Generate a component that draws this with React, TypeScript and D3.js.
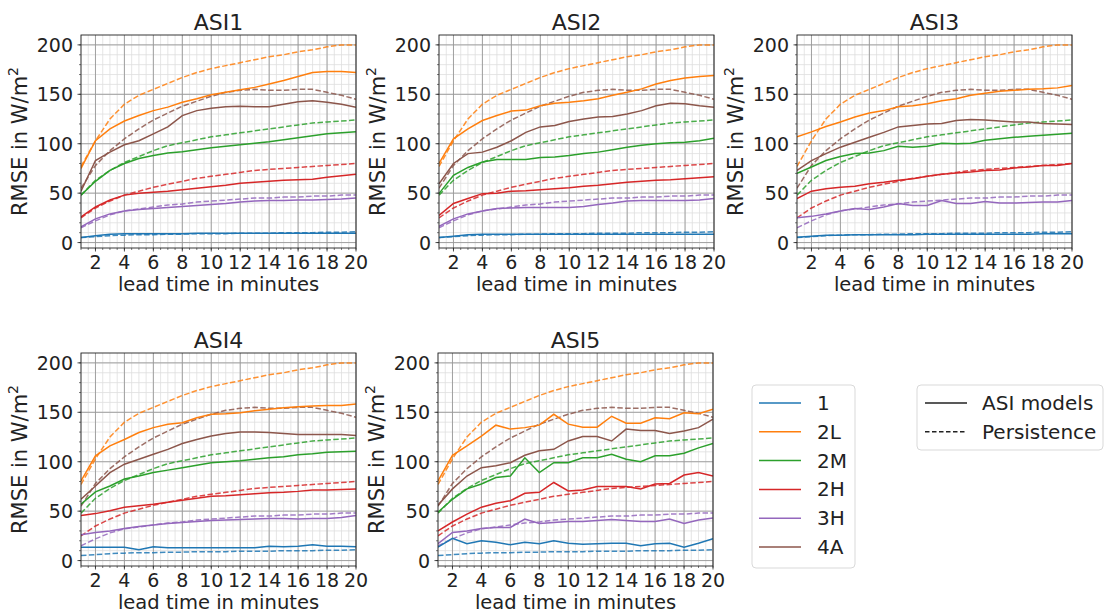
import React from 'react';
import * as d3 from 'd3';

const leadTimes = [1, 2, 3, 4, 5, 6, 7, 8, 9, 10, 11, 12, 13, 14, 15, 16, 17, 18, 19, 20];
const seriesNames = ['1', '2L', '2M', '2H', '3H', '4A'];
const seriesColors = ['#1f77b4', '#ff7f0e', '#2ca02c', '#d62728', '#9467bd', '#8c564b'];
const panelTitles = ['ASI1', 'ASI2', 'ASI3', 'ASI4', 'ASI5'];
const xTickValues = [2, 4, 6, 8, 10, 12, 14, 16, 18, 20];
const yTickValues = [0, 50, 100, 150, 200];
const styleNames = ['ASI models', 'Persistence'];

// Persistence (same reference in every panel)
const persist1 = [5, 6, 7, 7.5, 8, 8, 8.5, 8.5, 9, 9, 9, 9.5, 9.5, 9.5, 10, 10, 10, 10.5, 10.5, 11];
const persist2L = [77, 103, 125, 140, 149, 155, 161, 167, 172, 176, 179, 182, 185, 188, 190, 193, 195, 198, 200, 200];
const persist2M = [48, 63, 73, 81, 87, 93, 98, 101, 104, 107, 109, 111, 113, 115, 117, 119, 121, 122, 123, 124];
const persist2H = [25, 35, 42, 48, 52, 56, 59, 62, 65, 67, 69, 71, 73, 74, 75, 76, 77, 78, 79, 80];
const persist3H = [15, 22, 28, 32, 34, 36, 38, 39, 41, 42, 43, 44, 45, 45, 46, 46, 47, 47, 48, 48];
const persist4A = [55, 78, 93, 105, 115, 124, 131, 138, 143, 148, 152, 154, 155, 154, 154, 155, 155, 152, 149, 145];

// ASI1
const asi1_1 = [5, 7, 8.5, 9, 9, 9, 9, 9, 9.5, 9.5, 9.5, 9.5, 9.5, 9.5, 9.5, 9.5, 9.5, 9.5, 9.5, 9.5];
const asi1_2L = [75, 103, 115, 123, 128.5, 133.5, 137, 142, 145.5, 149.5, 152, 154.5, 157, 160.5, 164, 168, 172, 173, 173, 172];
const asi1_2M = [48, 62, 73, 80, 85, 88, 90.5, 92, 94, 96, 97.5, 99, 100.5, 102, 104, 106, 108, 110, 111, 112];
const asi1_2H = [26, 36, 43, 48, 50, 51, 52, 53.5, 55, 56.5, 58, 60, 61, 62, 63, 63.5, 64, 66, 67.5, 69];
const asi1_3H = [16, 24, 29, 32, 33.5, 34.5, 35.5, 36.5, 37.5, 38.5, 39.5, 41, 42, 42.5, 42.5, 43, 43, 43.5, 44, 45];
const asi1_4A = [52, 83, 91.5, 99, 103, 110, 117, 128.5, 133.5, 136, 137.5, 138, 137.5, 137.5, 140, 142.5, 143.5, 142, 140, 137];

// ASI2
const asi2_1 = [5, 6.5, 8, 8.5, 8.5, 8.5, 8.5, 8.5, 8.5, 8.5, 8.5, 8.5, 8.5, 8.5, 8.5, 8.5, 8.5, 8.5, 8.5, 8.5];
const asi2_2L = [80, 105, 115, 123.5, 128.5, 133, 134, 138.5, 141, 142, 143.5, 145.5, 149, 152, 155.5, 160.5, 164, 166.5, 168, 169];
const asi2_2M = [49.5, 68, 76, 81.5, 84, 84, 84, 86, 86.5, 88, 90, 91.5, 94, 96.5, 98.5, 100, 101, 101.5, 103, 105.5];
const asi2_2H = [27.5, 39.5, 44.5, 49.5, 50, 52, 52.5, 53.5, 54.5, 55.5, 57, 58, 59.5, 61, 62, 63, 63.5, 64.5, 65.5, 66.5];
const asi2_3H = [16.5, 24, 29, 32, 34.5, 35, 35.5, 35.5, 35.5, 35.5, 36.5, 38.5, 40, 42, 42.5, 42.5, 42.5, 42.5, 43, 44.5];
const asi2_4A = [59.5, 80, 90, 91.5, 96.5, 103, 111.5, 117, 118.5, 122.5, 125, 127, 127.5, 130, 133.5, 138.5, 141, 140.5, 138.5, 137];

// ASI3
const asi3_1 = [5.5, 6.5, 7.5, 7.5, 8, 8, 8, 8, 8, 8.5, 8.5, 8.5, 8.5, 8.5, 8.5, 8.5, 8.5, 9, 9, 9];
const asi3_2L = [107, 112, 117.5, 122, 127, 131, 133.5, 137.5, 138.5, 140.5, 143.5, 145.5, 149, 151, 153, 154, 155, 155.5, 156.5, 159];
const asi3_2M = [70, 76.5, 83, 87, 90, 90.5, 93, 97.5, 96.5, 97.5, 100.5, 100, 100.5, 103.5, 105, 106.5, 107.5, 108.5, 109.5, 110.5];
const asi3_2H = [44.5, 52, 54.5, 56, 57, 59.5, 61, 63, 64.5, 67, 69, 70.5, 71.5, 73, 73.5, 75.5, 76.5, 78, 78, 80];
const asi3_3H = [25, 26.5, 29, 32, 34.5, 33.5, 36, 39.5, 37.5, 37.5, 42.5, 39.5, 39.5, 41.5, 40, 40, 40.5, 41, 41, 42.5];
const asi3_4A = [73, 83, 90, 96.5, 101.5, 106.5, 111.5, 117, 118.5, 120, 120.5, 123.5, 124.5, 124, 123, 122, 122, 120.5, 120, 119.5];

// ASI4
const asi4_1 = [13.5, 13.5, 13.5, 13.5, 11, 14, 13, 13, 13, 13, 13, 13, 13, 14.5, 14, 14.5, 16, 14.5, 14.5, 14];
const asi4_2L = [80.5, 106, 116, 122.5, 129.5, 134.5, 138, 139.5, 144.5, 148, 148.5, 149.5, 151.5, 153, 154.5, 155.5, 156.5, 157, 157, 158.5];
const asi4_2M = [57, 69.5, 75.5, 82.5, 85.5, 89, 91.5, 94, 96.5, 99, 100, 101, 102.5, 104, 105, 107, 108, 109.5, 110, 110.5];
const asi4_2H = [45.5, 47.5, 50.5, 54, 55.5, 57, 59, 61, 63, 65, 65.5, 66.5, 67.5, 68.5, 69, 70, 71.5, 71.5, 72, 72.5];
const asi4_3H = [26, 28.5, 30, 32.5, 34.5, 36, 37.5, 38.5, 39.5, 40.5, 41, 41.5, 42, 42.5, 42.5, 42, 42.5, 42.5, 43.5, 45.5];
const asi4_4A = [62, 75.5, 89, 97.5, 102.5, 107.5, 112.5, 118.5, 122.5, 126, 128.5, 130, 130, 129.5, 128.5, 127.5, 127.5, 127.5, 127.5, 126.5];

// ASI5
const asi5_1 = [13.5, 22.5, 17, 20, 18.5, 16, 18.5, 17, 20, 17.5, 16.5, 17, 17.5, 17.5, 15, 17, 17.5, 13.5, 17.5, 22];
const asi5_2L = [80.5, 106.5, 116, 126, 137, 133, 134.5, 137, 148, 138, 135, 135, 146, 139, 139, 144.5, 143.5, 149.5, 148.5, 153];
const asi5_2M = [49, 62, 72.5, 77.5, 84, 85.5, 104, 89, 99, 99, 104, 104, 107.5, 102.5, 100, 106, 106, 108.5, 114, 118.5];
const asi5_2H = [30, 39, 47, 54, 58, 60.5, 68, 69, 79, 70.5, 71.5, 75, 75, 75, 72.5, 77.5, 78, 86.5, 89, 85.5];
const asi5_3H = [17, 28.5, 30, 32.5, 33.5, 33.5, 42, 37.5, 38.5, 39.5, 39.5, 40.5, 41.5, 40.5, 39.5, 39.5, 42, 37.5, 41, 43];
const asi5_4A = [56, 72.5, 85.5, 94, 96, 99, 106.5, 111, 112.5, 121, 125.5, 125.5, 121, 133, 131.5, 131.5, 128.5, 131, 134.5, 143];

const persistence = [persist1, persist2L, persist2M, persist2H, persist3H, persist4A];
const panelData = [
  [asi1_1, asi1_2L, asi1_2M, asi1_2H, asi1_3H, asi1_4A],
  [asi2_1, asi2_2L, asi2_2M, asi2_2H, asi2_3H, asi2_4A],
  [asi3_1, asi3_2L, asi3_2M, asi3_2H, asi3_3H, asi3_4A],
  [asi4_1, asi4_2L, asi4_2M, asi4_2H, asi4_3H, asi4_4A],
  [asi5_1, asi5_2L, asi5_2M, asi5_2H, asi5_3H, asi5_4A],
];

const PW = 275;
const PH = 213;
const panelPos = [
  { x: 81, y: 35 },
  { x: 439, y: 35 },
  { x: 797, y: 35 },
  { x: 81, y: 353 },
  { x: 438, y: 353 },
];
const FONT = 'DejaVu Sans, sans-serif';

function Panel({ idx }: { idx: number }) {
  const pos = panelPos[idx];
  const x = d3.scaleLinear().domain([1, 20]).range([0, PW]);
  const y = d3.scaleLinear().domain([-5.5, 210]).range([PH, 0]);
  const xMinor = d3.range(1, 20.001, 0.5);
  const yMinor = d3.range(0, 210, 10);
  const line = d3
    .line<number>()
    .x((_, i) => x(leadTimes[i]))
    .y((d) => y(d));
  const clipId = `clip-${idx}`;
  return (
    <g transform={`translate(${pos.x},${pos.y})`}>
      <defs>
        <clipPath id={clipId}>
          <rect x={0} y={0} width={PW} height={PH} />
        </clipPath>
      </defs>
      <rect x={0} y={0} width={PW} height={PH} fill="#fff" />
      {xMinor.map((v) => (
        <line key={`xm${v}`} x1={x(v)} x2={x(v)} y1={0} y2={PH} stroke="#dedede" strokeWidth={0.8} />
      ))}
      {yMinor.map((v) => (
        <line key={`ym${v}`} x1={0} x2={PW} y1={y(v)} y2={y(v)} stroke="#dedede" strokeWidth={0.8} />
      ))}
      {xTickValues.map((v) => (
        <line key={`xg${v}`} x1={x(v)} x2={x(v)} y1={0} y2={PH} stroke="#999" strokeWidth={0.9} />
      ))}
      {yTickValues.map((v) => (
        <line key={`yg${v}`} x1={0} x2={PW} y1={y(v)} y2={y(v)} stroke="#999" strokeWidth={0.9} />
      ))}
      <g clipPath={`url(#${clipId})`}>
        {seriesNames.map((s, i) => (
          <path
            key={`p${s}`}
            d={line(persistence[i]) || ''}
            fill="none"
            stroke={seriesColors[i]}
            strokeWidth={1.5}
            strokeDasharray="5.5,2.4"
            opacity={0.85}
          />
        ))}
        {seriesNames.map((s, i) => (
          <path
            key={`a${s}`}
            d={line(panelData[idx][i]) || ''}
            fill="none"
            stroke={seriesColors[i]}
            strokeWidth={1.5}
          />
        ))}
      </g>
      <rect x={0} y={0} width={PW} height={PH} fill="none" stroke="#222" strokeWidth={0.9} />
      {xMinor.map((v) => (
        <line key={`xmt${v}`} x1={x(v)} x2={x(v)} y1={PH} y2={PH + 2} stroke="#222" strokeWidth={0.6} />
      ))}
      {yMinor.map((v) => (
        <line key={`ymt${v}`} x1={0} x2={-2} y1={y(v)} y2={y(v)} stroke="#222" strokeWidth={0.6} />
      ))}
      {xTickValues.map((v) => (
        <g key={`xt${v}`}>
          <line x1={x(v)} x2={x(v)} y1={PH} y2={PH + 3.5} stroke="#222" strokeWidth={0.8} />
          <text x={x(v)} y={PH + 21} textAnchor="middle" fontSize={19} fontFamily={FONT} fill="#222">
            {v}
          </text>
        </g>
      ))}
      {yTickValues.map((v) => (
        <g key={`yt${v}`}>
          <line x1={0} x2={-3.5} y1={y(v)} y2={y(v)} stroke="#222" strokeWidth={0.8} />
          <text x={-8} y={y(v) + 7} textAnchor="end" fontSize={19} fontFamily={FONT} fill="#222">
            {v}
          </text>
        </g>
      ))}
      <text x={PW / 2} y={-5} textAnchor="middle" fontSize={22} fontFamily={FONT} fill="#222">
        {panelTitles[idx]}
      </text>
      <text x={PW / 2} y={PH + 43} textAnchor="middle" fontSize={19.5} fontFamily={FONT} fill="#222">
        lead time in minutes
      </text>
      <text
        transform={`translate(${-54},${PH / 2}) rotate(-90)`}
        textAnchor="middle"
        fontSize={21}
        fontFamily={FONT}
        fill="#222"
      >
        RMSE in W/m
        <tspan fontSize={14} dy={-9}>
          2
        </tspan>
      </text>
    </g>
  );
}

export default function App() {
  const legend1 = { x: 752, y: 385, w: 103, h: 183 };
  const legend2 = { x: 917, y: 385, w: 186, h: 65 };
  const rowH = 28.8;
  return (
    <svg width={1105} height={615} style={{ position: 'absolute', left: 0, top: 0, background: '#fff' }}>
      <rect x={0} y={0} width={1105} height={615} fill="#fff" />
      {panelTitles.map((_, i) => (
        <Panel key={i} idx={i} />
      ))}
      <g>
        <rect x={legend1.x} y={legend1.y} width={legend1.w} height={legend1.h} rx={4} fill="#fff" stroke="#d9d9d9" strokeWidth={1} />
        {seriesNames.map((s, i) => {
          const cy = legend1.y + 18 + i * rowH;
          return (
            <g key={s}>
              <line x1={759} x2={801} y1={cy} y2={cy} stroke={seriesColors[i]} strokeWidth={1.5} />
              <text x={817} y={cy + 7} fontSize={20} fontFamily={FONT} fill="#222">
                {s}
              </text>
            </g>
          );
        })}
      </g>
      <g>
        <rect x={legend2.x} y={legend2.y} width={legend2.w} height={legend2.h} rx={4} fill="#fff" stroke="#d9d9d9" strokeWidth={1} />
        {styleNames.map((s, i) => {
          const cy = legend2.y + 18 + i * rowH;
          return (
            <g key={s}>
              <line
                x1={925}
                x2={967}
                y1={cy}
                y2={cy}
                stroke="#222"
                strokeWidth={1.5}
                strokeDasharray={i === 1 ? '4.5,2.5' : undefined}
              />
              <text x={982} y={cy + 7} fontSize={20} fontFamily={FONT} fill="#222">
                {s}
              </text>
            </g>
          );
        })}
      </g>
    </svg>
  );
}
